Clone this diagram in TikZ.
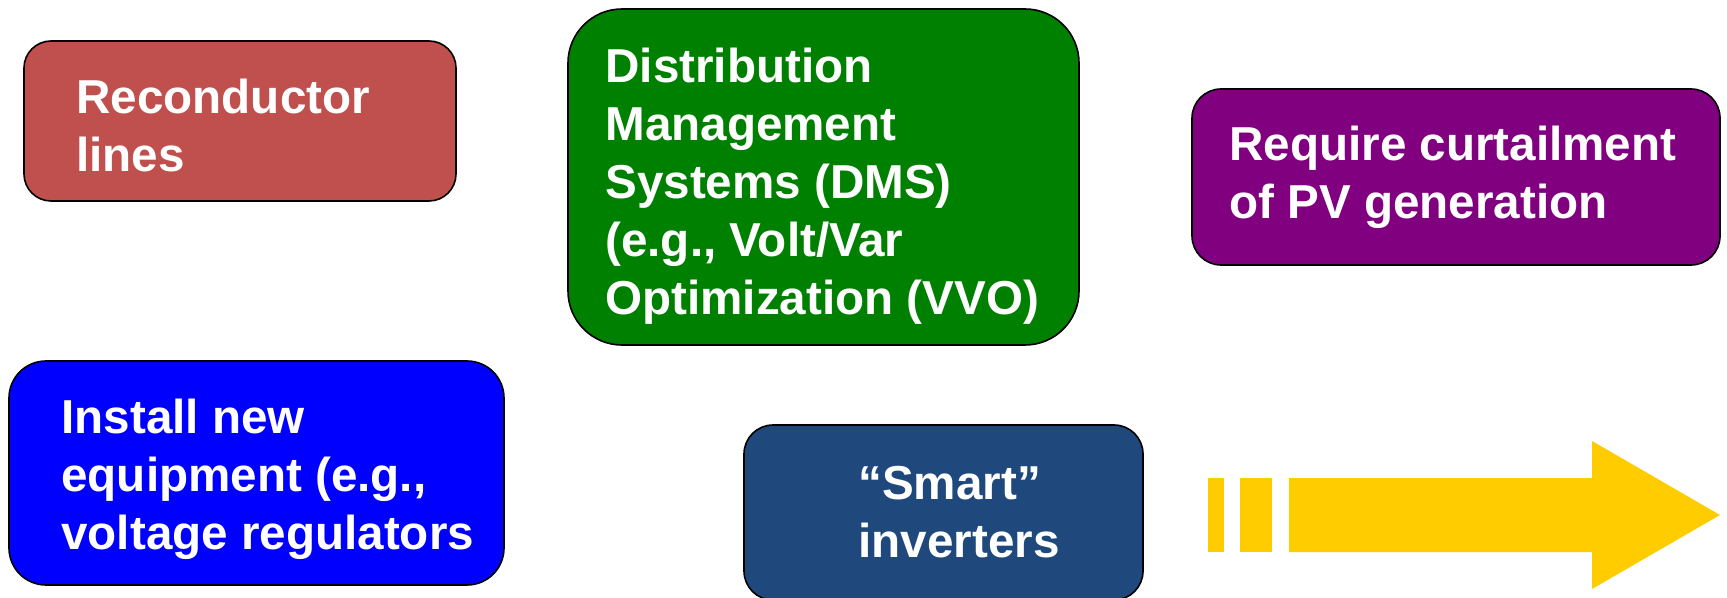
\documentclass[tikz,border=0pt]{standalone}
\usepackage{fontspec}
\setmainfont{Liberation Sans}
\definecolor{redc}{HTML}{C0504D}
\definecolor{greenc}{HTML}{008000}
\definecolor{purplec}{HTML}{800080}
\definecolor{bluec}{HTML}{0000FF}
\definecolor{navyc}{HTML}{1F497D}
\definecolor{arrowc}{HTML}{FFCC00}
\tikzset{
  box/.style={draw=black, line width=0.8pt, rounded corners=#1, inner sep=0pt},
  box/.default=14pt,
  lbl/.style={text=white, font=\bfseries\fontsize{23.8}{29}\selectfont,
    align=left, inner sep=0pt, anchor=west},
  band/.style={fill=arrowc, draw=none}
}
\begin{document}
\begin{tikzpicture}[x=0.5pt, y=-0.5pt]
\useasboundingbox (0,0) rectangle (1727,598);

% option boxes
\node[box=13.5pt, fill=redc, minimum width=216pt, minimum height=80pt] (recbox) at (240,121) {};
\node[box=27pt, fill=greenc, minimum width=255.5pt, minimum height=168pt] (dmsbox) at (823.5,177) {};
\node[box=14.5pt, fill=purplec, minimum width=264pt, minimum height=88pt] (curbox) at (1456,177) {};
\node[box=18.5pt, fill=bluec, minimum width=247.5pt, minimum height=112pt] (eqbox) at (256.5,473) {};
\node[box=14.5pt, fill=navyc, minimum width=199.5pt, minimum height=87.5pt] (invbox) at (943.5,512.5) {};

% labels
\node[lbl] (rectxt) at (76,125) {Reconductor\\lines};
\node[lbl] (dmstxt) at (605,186) {Distribution\\Management\\Systems (DMS)\\(e.g., Volt/Var\\Optimization (VVO)};
\node[lbl] (curtxt) at (1229,177) {Require curtailment\\of PV generation};
\node[lbl] (eqtxt) at (61,479) {Install new\\equipment (e.g.,\\voltage regulators};
\node[lbl] (invtxt) at (858,512) {“Smart”\\inverters};

% progress arrow
\fill[band] (1208,478) rectangle (1224,552);
\fill[band] (1240,478) rectangle (1272,552);
\fill[band] (1289,478) -- (1592,478) -- (1592,441) -- (1720,515)
  -- (1592,589) -- (1592,552) -- (1289,552) -- cycle;
\end{tikzpicture}
\end{document}
